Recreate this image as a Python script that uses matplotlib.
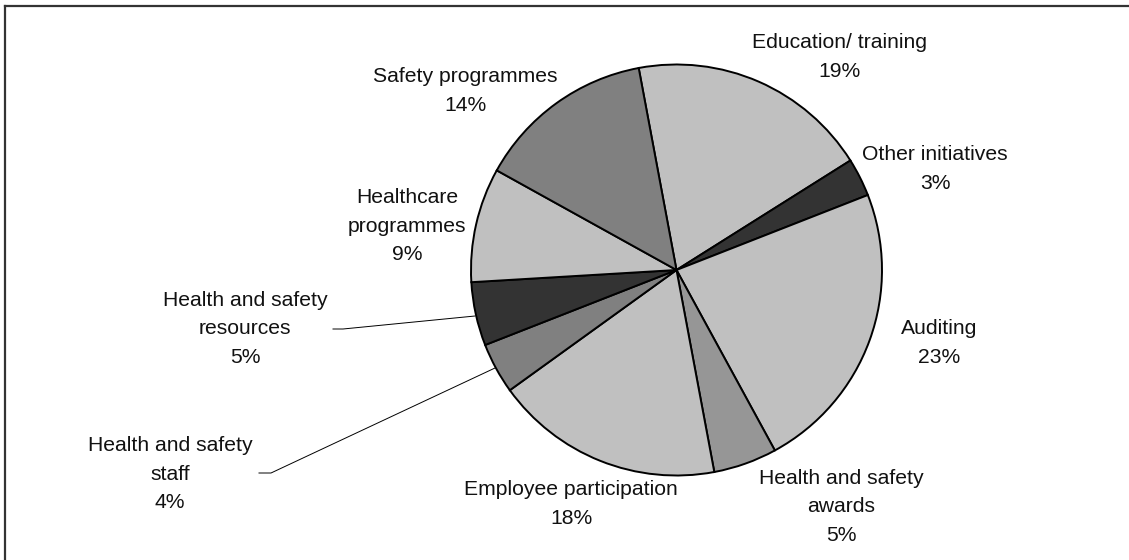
import matplotlib
matplotlib.use("Agg")
import matplotlib.pyplot as plt
from matplotlib.lines import Line2D

categories = ["Education/ training", "Other initiatives", "Auditing",
              "Health and safety\nawards", "Employee participation",
              "Health and safety\nstaff", "Health and safety\nresources",
              "Healthcare\nprogrammes", "Safety programmes"]
values = [19, 3, 23, 5, 18, 4, 5, 9, 14]
colors = ["#C0C0C0", "#333333", "#C0C0C0", "#969696", "#C0C0C0",
          "#808080", "#333333", "#C0C0C0", "#808080"]

W, H = 1129, 560
fig = plt.figure(figsize=(W / 100, H / 100), dpi=100)
ax = fig.add_axes([0, 0, 1, 1])

cx, cy, r = 676.5, H - 270, 205.5
ax.pie(values, startangle=100.6, counterclock=False, colors=colors,
       center=(cx, cy), radius=r, frame=True,
       wedgeprops=dict(edgecolor="black", linewidth=1.4))
ax.set_xlim(0, W)
ax.set_ylim(0, H)
ax.set_aspect("equal")
ax.axis("off")

# label centres (pixel coords from top)
label_pos = [(840, 57), (935, 169), (939, 343), (841, 507), (571, 504),
             (170, 474), (245, 329), (407, 226), (465, 91)]
for cat, v, (x, y) in zip(categories, values, label_pos):
    ax.text(x, H - y, f"{cat}\n{v}%", ha="center", va="center",
            fontsize=15.2, family="Liberation Sans", color="#111111",
            linespacing=1.65)

# leader lines
ax.plot([475, 343, 333], [H - 316, H - 329, H - 329], color="black", lw=0.7)
ax.plot([495, 271, 259], [H - 368, H - 473, H - 473], color="black", lw=0.7)

# partial frame (top and left)
fig.add_artist(Line2D([4.5 / W, 4.5 / W], [0, 1 - 5.5 / H], transform=fig.transFigure,
                      color="#333333", lw=1.6))
fig.add_artist(Line2D([4.5 / W, 1], [1 - 5.5 / H, 1 - 5.5 / H], transform=fig.transFigure,
                      color="#333333", lw=1.6))

fig.savefig("out.png", dpi=100, facecolor="white")
